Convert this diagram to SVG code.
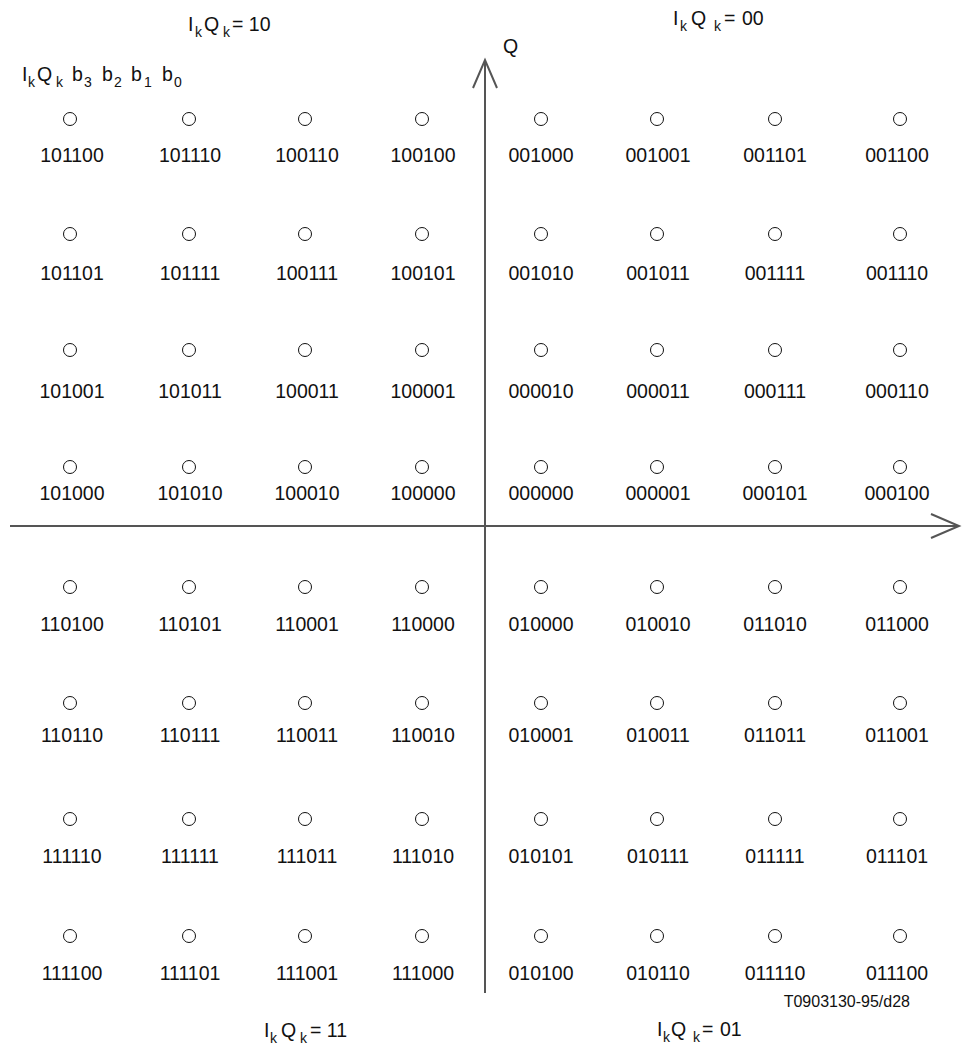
<svg xmlns="http://www.w3.org/2000/svg" width="973" height="1046" viewBox="0 0 973 1046">
<style>
text{font-family:"Liberation Sans",Arial,sans-serif;fill:#111}
.lb{font-size:19.5px;text-anchor:middle}
.pt{fill:none;stroke:#111;stroke-width:1}
.ax{fill:none;stroke:#555;stroke-width:2}
.t{font-size:19.5px}
.s{font-size:14px}
</style>
<rect width="973" height="1046" fill="#fff"/>
<g id="axes">
<line class="ax" x1="10" y1="526" x2="959" y2="526"/>
<polyline class="ax" points="931,514 959,526 931,538"/>
<line class="ax" x1="485" y1="60" x2="485" y2="993"/>
<polyline class="ax" points="473,88 485,60 497,88"/>
</g>
<g id="labels">
<text class="t" x="503" y="53">Q</text>
<text class="t" y="31"><tspan x="188">I</tspan><tspan class="s" x="195" y="37">k</tspan><tspan x="204" y="31">Q</tspan><tspan class="s" x="223" y="37">k</tspan><tspan x="232" y="31">= 10</tspan></text>
<text class="t" y="25"><tspan x="673">I</tspan><tspan class="s" x="680" y="31">k</tspan><tspan x="691" y="25">Q</tspan><tspan class="s" x="714" y="31">k</tspan><tspan x="724" y="25">=</tspan><tspan x="742" y="25">00</tspan></text>
<text class="t" y="1037"><tspan x="264">I</tspan><tspan class="s" x="270" y="1043">k</tspan><tspan x="281" y="1037">Q</tspan><tspan class="s" x="300" y="1043">k</tspan><tspan x="310" y="1037">= 11</tspan></text>
<text class="t" y="1036"><tspan x="657">I</tspan><tspan class="s" x="663" y="1042">k</tspan><tspan x="671" y="1036">Q</tspan><tspan class="s" x="693" y="1042">k</tspan><tspan x="702" y="1036">=</tspan><tspan x="720" y="1036">01</tspan></text>
<text class="t" y="81"><tspan x="22">I</tspan><tspan class="s" x="28" y="87">k</tspan><tspan x="37" y="81">Q</tspan><tspan class="s" x="56" y="87">k</tspan><tspan x="72" y="81">b</tspan><tspan class="s" x="84" y="87">3</tspan><tspan x="102" y="81">b</tspan><tspan class="s" x="114" y="87">2</tspan><tspan x="131" y="81">b</tspan><tspan class="s" x="144" y="87">1</tspan><tspan x="162" y="81">b</tspan><tspan class="s" x="174" y="87">0</tspan></text>
<text x="910" y="1007" style="font-size:16px;text-anchor:end">T0903130-95/d28</text>
</g>
<g id="n101100"><circle class="pt" cx="70" cy="119" r="6.5"/><text class="lb" x="72" y="162">101100</text></g>
<g id="n101110"><circle class="pt" cx="189" cy="119" r="6.5"/><text class="lb" x="190" y="162">101110</text></g>
<g id="n100110"><circle class="pt" cx="305" cy="119" r="6.5"/><text class="lb" x="307" y="162">100110</text></g>
<g id="n100100"><circle class="pt" cx="422" cy="119" r="6.5"/><text class="lb" x="423" y="162">100100</text></g>
<g id="n001000"><circle class="pt" cx="541" cy="119" r="6.5"/><text class="lb" x="541" y="162">001000</text></g>
<g id="n001001"><circle class="pt" cx="657" cy="119" r="6.5"/><text class="lb" x="658" y="162">001001</text></g>
<g id="n001101"><circle class="pt" cx="775" cy="119" r="6.5"/><text class="lb" x="775" y="162">001101</text></g>
<g id="n001100"><circle class="pt" cx="900" cy="119" r="6.5"/><text class="lb" x="897" y="162">001100</text></g>
<g id="n101101"><circle class="pt" cx="70" cy="234" r="6.5"/><text class="lb" x="72" y="280">101101</text></g>
<g id="n101111"><circle class="pt" cx="189" cy="234" r="6.5"/><text class="lb" x="190" y="280">101111</text></g>
<g id="n100111"><circle class="pt" cx="305" cy="234" r="6.5"/><text class="lb" x="307" y="280">100111</text></g>
<g id="n100101"><circle class="pt" cx="422" cy="234" r="6.5"/><text class="lb" x="423" y="280">100101</text></g>
<g id="n001010"><circle class="pt" cx="541" cy="234" r="6.5"/><text class="lb" x="541" y="280">001010</text></g>
<g id="n001011"><circle class="pt" cx="657" cy="234" r="6.5"/><text class="lb" x="658" y="280">001011</text></g>
<g id="n001111"><circle class="pt" cx="775" cy="234" r="6.5"/><text class="lb" x="775" y="280">001111</text></g>
<g id="n001110"><circle class="pt" cx="900" cy="234" r="6.5"/><text class="lb" x="897" y="280">001110</text></g>
<g id="n101001"><circle class="pt" cx="70" cy="350" r="6.5"/><text class="lb" x="72" y="398">101001</text></g>
<g id="n101011"><circle class="pt" cx="189" cy="350" r="6.5"/><text class="lb" x="190" y="398">101011</text></g>
<g id="n100011"><circle class="pt" cx="305" cy="350" r="6.5"/><text class="lb" x="307" y="398">100011</text></g>
<g id="n100001"><circle class="pt" cx="422" cy="350" r="6.5"/><text class="lb" x="423" y="398">100001</text></g>
<g id="n000010"><circle class="pt" cx="541" cy="350" r="6.5"/><text class="lb" x="541" y="398">000010</text></g>
<g id="n000011"><circle class="pt" cx="657" cy="350" r="6.5"/><text class="lb" x="658" y="398">000011</text></g>
<g id="n000111"><circle class="pt" cx="775" cy="350" r="6.5"/><text class="lb" x="775" y="398">000111</text></g>
<g id="n000110"><circle class="pt" cx="900" cy="350" r="6.5"/><text class="lb" x="897" y="398">000110</text></g>
<g id="n101000"><circle class="pt" cx="70" cy="467" r="6.5"/><text class="lb" x="72" y="500">101000</text></g>
<g id="n101010"><circle class="pt" cx="189" cy="467" r="6.5"/><text class="lb" x="190" y="500">101010</text></g>
<g id="n100010"><circle class="pt" cx="305" cy="467" r="6.5"/><text class="lb" x="307" y="500">100010</text></g>
<g id="n100000"><circle class="pt" cx="422" cy="467" r="6.5"/><text class="lb" x="423" y="500">100000</text></g>
<g id="n000000"><circle class="pt" cx="541" cy="467" r="6.5"/><text class="lb" x="541" y="500">000000</text></g>
<g id="n000001"><circle class="pt" cx="657" cy="467" r="6.5"/><text class="lb" x="658" y="500">000001</text></g>
<g id="n000101"><circle class="pt" cx="775" cy="467" r="6.5"/><text class="lb" x="775" y="500">000101</text></g>
<g id="n000100"><circle class="pt" cx="900" cy="467" r="6.5"/><text class="lb" x="897" y="500">000100</text></g>
<g id="n110100"><circle class="pt" cx="70" cy="587" r="6.5"/><text class="lb" x="72" y="631">110100</text></g>
<g id="n110101"><circle class="pt" cx="189" cy="587" r="6.5"/><text class="lb" x="190" y="631">110101</text></g>
<g id="n110001"><circle class="pt" cx="305" cy="587" r="6.5"/><text class="lb" x="307" y="631">110001</text></g>
<g id="n110000"><circle class="pt" cx="422" cy="587" r="6.5"/><text class="lb" x="423" y="631">110000</text></g>
<g id="n010000"><circle class="pt" cx="541" cy="587" r="6.5"/><text class="lb" x="541" y="631">010000</text></g>
<g id="n010010"><circle class="pt" cx="657" cy="587" r="6.5"/><text class="lb" x="658" y="631">010010</text></g>
<g id="n011010"><circle class="pt" cx="775" cy="587" r="6.5"/><text class="lb" x="775" y="631">011010</text></g>
<g id="n011000"><circle class="pt" cx="900" cy="587" r="6.5"/><text class="lb" x="897" y="631">011000</text></g>
<g id="n110110"><circle class="pt" cx="70" cy="703" r="6.5"/><text class="lb" x="72" y="742">110110</text></g>
<g id="n110111"><circle class="pt" cx="189" cy="703" r="6.5"/><text class="lb" x="190" y="742">110111</text></g>
<g id="n110011"><circle class="pt" cx="305" cy="703" r="6.5"/><text class="lb" x="307" y="742">110011</text></g>
<g id="n110010"><circle class="pt" cx="422" cy="703" r="6.5"/><text class="lb" x="423" y="742">110010</text></g>
<g id="n010001"><circle class="pt" cx="541" cy="703" r="6.5"/><text class="lb" x="541" y="742">010001</text></g>
<g id="n010011"><circle class="pt" cx="657" cy="703" r="6.5"/><text class="lb" x="658" y="742">010011</text></g>
<g id="n011011"><circle class="pt" cx="775" cy="703" r="6.5"/><text class="lb" x="775" y="742">011011</text></g>
<g id="n011001"><circle class="pt" cx="900" cy="703" r="6.5"/><text class="lb" x="897" y="742">011001</text></g>
<g id="n111110"><circle class="pt" cx="70" cy="819" r="6.5"/><text class="lb" x="72" y="863">111110</text></g>
<g id="n111111"><circle class="pt" cx="189" cy="819" r="6.5"/><text class="lb" x="190" y="863">111111</text></g>
<g id="n111011"><circle class="pt" cx="305" cy="819" r="6.5"/><text class="lb" x="307" y="863">111011</text></g>
<g id="n111010"><circle class="pt" cx="422" cy="819" r="6.5"/><text class="lb" x="423" y="863">111010</text></g>
<g id="n010101"><circle class="pt" cx="541" cy="819" r="6.5"/><text class="lb" x="541" y="863">010101</text></g>
<g id="n010111"><circle class="pt" cx="657" cy="819" r="6.5"/><text class="lb" x="658" y="863">010111</text></g>
<g id="n011111"><circle class="pt" cx="775" cy="819" r="6.5"/><text class="lb" x="775" y="863">011111</text></g>
<g id="n011101"><circle class="pt" cx="900" cy="819" r="6.5"/><text class="lb" x="897" y="863">011101</text></g>
<g id="n111100"><circle class="pt" cx="70" cy="936" r="6.5"/><text class="lb" x="72" y="980">111100</text></g>
<g id="n111101"><circle class="pt" cx="189" cy="936" r="6.5"/><text class="lb" x="190" y="980">111101</text></g>
<g id="n111001"><circle class="pt" cx="305" cy="936" r="6.5"/><text class="lb" x="307" y="980">111001</text></g>
<g id="n111000"><circle class="pt" cx="422" cy="936" r="6.5"/><text class="lb" x="423" y="980">111000</text></g>
<g id="n010100"><circle class="pt" cx="541" cy="936" r="6.5"/><text class="lb" x="541" y="980">010100</text></g>
<g id="n010110"><circle class="pt" cx="657" cy="936" r="6.5"/><text class="lb" x="658" y="980">010110</text></g>
<g id="n011110"><circle class="pt" cx="775" cy="936" r="6.5"/><text class="lb" x="775" y="980">011110</text></g>
<g id="n011100"><circle class="pt" cx="900" cy="936" r="6.5"/><text class="lb" x="897" y="980">011100</text></g>
</svg>
